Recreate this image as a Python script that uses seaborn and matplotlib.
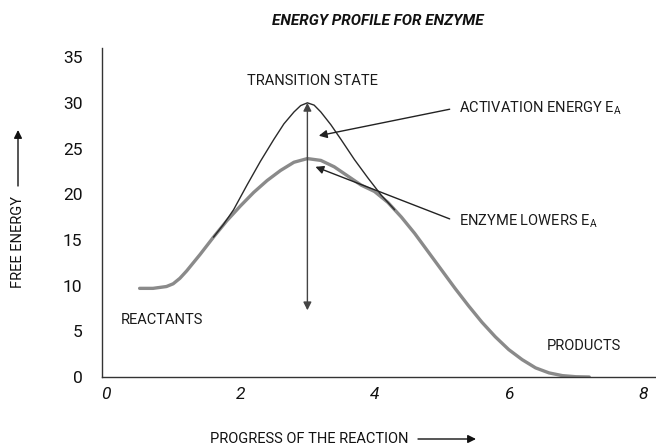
import matplotlib
matplotlib.use("Agg")
import matplotlib.pyplot as plt
import seaborn as sns
import pandas as pd

sns.set_theme(style="white")
plt.rcParams["font.family"] = ["Roboto", "Liberation Sans", "DejaVu Sans"]
plt.rcParams["mathtext.fontset"] = "custom"
plt.rcParams["mathtext.rm"] = "Roboto"

# --- data ---
enzyme_x = [0.5, 0.7, 0.9, 1.0, 1.1, 1.2, 1.4, 1.6, 1.8, 2.0, 2.2, 2.4, 2.6, 2.8, 3.0,
            3.2, 3.4, 3.6, 3.8, 4.0, 4.2, 4.4, 4.6, 4.8, 5.0, 5.2, 5.4, 5.6, 5.8,
            6.0, 6.2, 6.4, 6.6, 6.8, 7.0, 7.2]
enzyme_y = [9.7, 9.7, 9.9, 10.2, 10.8, 11.6, 13.4, 15.3, 17.1, 18.7, 20.2, 21.5, 22.6, 23.5, 23.9,
            23.7, 23.0, 22.0, 21.0, 20.3, 19.1, 17.5, 15.7, 13.7, 11.7, 9.7, 7.8, 6.0, 4.4,
            3.0, 1.9, 1.0, 0.45, 0.15, 0.03, 0.0]
no_enzyme_x = [1.6, 1.75, 1.9, 2.1, 2.3, 2.5, 2.65, 2.8, 2.9, 3.0, 3.1, 3.2, 3.35,
               3.5, 3.7, 3.9, 4.1, 4.3]
no_enzyme_y = [15.3, 16.7, 18.3, 21.0, 23.6, 26.0, 27.7, 29.0, 29.7, 30.0, 29.75, 29.0, 27.6,
               26.0, 23.8, 21.8, 19.9, 18.3]
x_ticks = [0, 2, 4, 6, 8]
y_ticks = [0, 5, 10, 15, 20, 25, 30, 35]

df_enz = pd.DataFrame({"x": enzyme_x, "y": enzyme_y})
df_no = pd.DataFrame({"x": no_enzyme_x, "y": no_enzyme_y})

fig = plt.figure(figsize=(6.56, 4.47), dpi=100)
ax = fig.add_axes([101.7 / 656, 70 / 447, 554 / 656, 329 / 447])

sns.lineplot(data=df_enz, x="x", y="y", ax=ax, color="#8a8a8a", linewidth=2.4,
             sort=False, estimator=None)
sns.lineplot(data=df_no, x="x", y="y", ax=ax, color="#2a2a2a", linewidth=1.0,
             sort=False, estimator=None)

ax.set_xlim(-0.065, 8.19)
ax.set_ylim(0, 36)
ax.set_xticks(x_ticks)
ax.set_yticks(y_ticks)
ax.set_xticklabels([str(t) for t in x_ticks], fontsize=12.5, style="italic")
ax.set_yticklabels([str(t) for t in y_ticks], fontsize=12.5)
ax.tick_params(axis="x", length=0, pad=7, colors="#111111")
ax.tick_params(axis="y", length=0, pad=14, colors="#111111")
sns.despine(ax=ax)
for s in ["left", "bottom"]:
    ax.spines[s].set_color("#333333")
    ax.spines[s].set_linewidth(1.0)
ax.set_xlabel("")
ax.set_ylabel("")
ax.grid(False)

# vertical double arrow (activation energy)
ax.annotate("", xy=(3.0, 30.0), xytext=(3.0, 7.3),
            arrowprops=dict(arrowstyle="<|-|>", color="#444444", lw=1.0,
                            mutation_scale=12, shrinkA=0, shrinkB=0))

txt = dict(fontsize=10.5, color="#1a1a1a")
ax.text(3.07, 32.4, "TRANSITION STATE", ha="center", va="center", **txt)
ax.text(5.26, 29.4, r"ACTIVATION ENERGY E$_\mathregular{A}$", ha="left", va="center", **txt)
ax.text(5.26, 17.0, r"ENZYME LOWERS E$_\mathregular{A}$", ha="left", va="center", **txt)
ax.text(0.22, 6.2, "REACTANTS", ha="left", va="center", **txt)
ax.text(6.56, 3.4, "PRODUCTS", ha="left", va="center", **txt)

ax.annotate("", xy=(3.17, 26.4), xytext=(5.12, 29.3),
            arrowprops=dict(arrowstyle="-|>", color="#222222", lw=1.0,
                            mutation_scale=12, shrinkA=0, shrinkB=0))
ax.annotate("", xy=(3.12, 23.0), xytext=(5.12, 17.3),
            arrowprops=dict(arrowstyle="-|>", color="#222222", lw=1.0,
                            mutation_scale=12, shrinkA=0, shrinkB=0))

# title and axis labels
fig.text(378 / 656, 1 - 21 / 447, "ENERGY PROFILE FOR ENZYME", ha="center", va="center",
         fontsize=11, fontweight="bold", style="italic", color="#111111")
fig.text(408 / 656, 1 - 439 / 447, "PROGRESS OF THE REACTION", ha="right", va="center",
         fontsize=10.5, color="#111111")
fig.add_artist(matplotlib.patches.FancyArrowPatch(
    (418 / 656, 1 - 439 / 447), (476 / 656, 1 - 439 / 447), transform=fig.transFigure,
    arrowstyle="-|>", mutation_scale=12, color="#111111", lw=1.0, shrinkA=0, shrinkB=0))
fig.text(18 / 656, 1 - 242 / 447, "FREE ENERGY", ha="center", va="center", rotation=90,
         fontsize=10.5, color="#111111")
fig.add_artist(matplotlib.patches.FancyArrowPatch(
    (18 / 656, 1 - 186 / 447), (18 / 656, 1 - 130 / 447), transform=fig.transFigure,
    arrowstyle="-|>", mutation_scale=12, color="#111111", lw=1.0, shrinkA=0, shrinkB=0))

fig.savefig("out.png", dpi=100, facecolor="white")
